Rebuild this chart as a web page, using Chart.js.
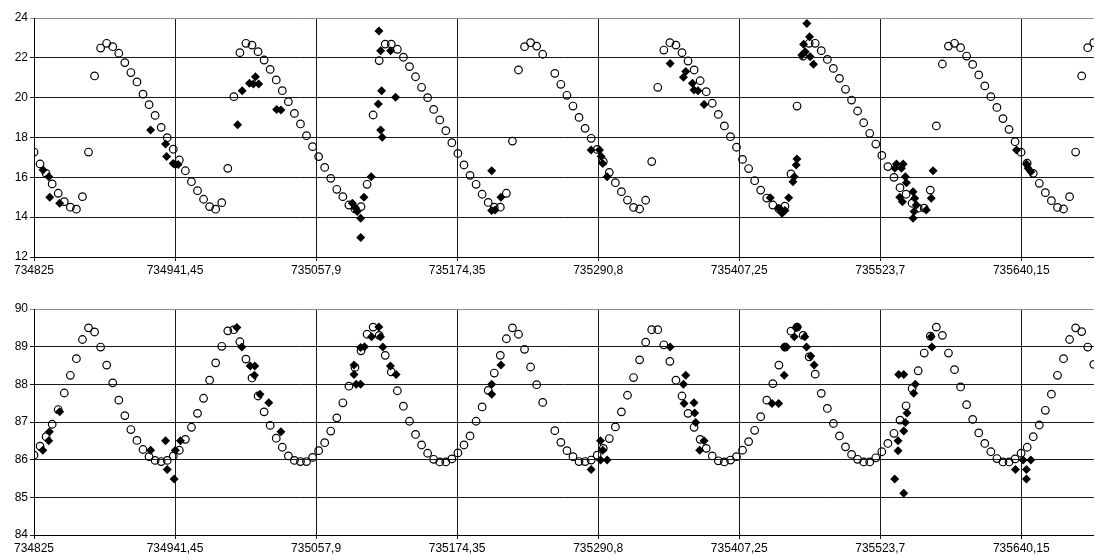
<!DOCTYPE html>
<html>
<head>
<meta charset="utf-8">
<script src="https://cdn.jsdelivr.net/npm/chart.js@4.4.1/dist/chart.umd.min.js"></script>
<style>
  body { margin: 0; background: #fff; }
  canvas { position: absolute; left: 0; }
  #chart_top { top: 0; }
  #chart_bottom { top: 278px; }
</style>
</head>
<body>
<canvas id="chart_top" width="1099" height="280"></canvas>
<canvas id="chart_bottom" width="1099" height="279"></canvas>
<script>
// model series: one value every 5 days starting at 734825 (null = missing)
var modelStart = 734825;
var modelStep = 5;

var modelTop = [
  17.27, 16.67, 16.2, 15.67, 15.2, 14.78, 14.5, 14.4, 15.03, 17.27,
  21.09, 22.49, 22.73, 22.56, 22.23, 21.76, 21.26, 20.79, 20.18, 19.65,
  19.11, 18.51, 17.99, 17.41, 16.87, 16.33, 15.78, 15.33, 14.9, 14.53,
  14.4, 14.73, 16.45, 20.05, 22.26, 22.73, 22.64, 22.31, 21.89, 21.42,
  20.89, 20.35, 19.8, 19.21, 18.68, 18.09, 17.54, 17.04, 16.5, 15.95,
  15.4, 15.03, 14.61, 14.42, 14.53, 15.65, 19.13, 21.86, 22.69, 22.69,
  22.43, 22.03, 21.56, 21.05, 20.52, 20.0, 19.41, 18.88, 18.34, 17.74,
  17.2, 16.62, 16.1, 15.65, 15.15, 14.74, 14.5, 14.5, 15.2, 17.82,
  21.39, 22.56, 22.76, 22.59, 22.18, null, 21.22, 20.67, 20.12, 19.58,
  19.01, 18.46, 17.96, 17.4, 16.79, 16.25, 15.73, 15.28, 14.86, 14.49,
  14.41, 14.85, 16.79, 20.52, 22.39, 22.76, 22.64, 22.26, 21.84, 21.39,
  20.85, 20.3, 19.72, 19.16, 18.58, 18.04, 17.51, 16.9, 16.44, 15.83,
  15.36, 14.96, 14.61, 14.42, 14.55, 16.17, 19.58, 22.09, 22.73, 22.73,
  22.36, 21.92, 21.47, 20.97, 20.42, 19.88, 19.33, 18.74, 18.21, 17.67,
  17.1, 16.54, 16.0, 15.48, 15.15, 14.7, 14.45, 14.45, 15.36, 18.58,
  21.69, 22.59, 22.73, 22.51, 22.09, 21.67, 21.14, 20.59, 20.05, 19.51,
  18.95, 18.41, 17.79, 17.26, 16.71, 16.2, 15.7, 15.23, 14.83, 14.49,
  14.41, 15.03, 17.27, 21.09, 22.51, 22.76
];

var modelBottom = [
  86.12, 86.36, 86.61, 86.94, 87.33, 87.77, 88.24, 88.68, 89.19, 89.5,
  89.39, 88.99, 88.51, 88.04, 87.58, 87.17, 86.8, 86.51, 86.27, 86.08,
  85.98, 85.95, 85.98, 86.1, 86.25, 86.54, 86.86, 87.23, 87.63, 88.11,
  88.57, 89.01, 89.42, 89.45, 89.13, 88.67, 88.17, 87.69, 87.27, 86.91,
  86.57, 86.33, 86.1, 85.98, 85.95, 85.95, 86.06, 86.24, 86.45, 86.76,
  87.11, 87.51, 87.95, 88.45, 88.89, 89.33, 89.52, 89.3, 88.77, 88.33,
  87.83, 87.42, 87.02, 86.67, 86.39, 86.17, 86.01, 85.94, 85.94, 86.02,
  86.18, 86.39, 86.63, 87.02, 87.4, 87.84, 88.3, 88.77, 89.21, 89.5,
  89.33, 88.93, 88.46, 87.99, 87.52, null, 86.77, 86.46, 86.24, 86.08,
  85.95, 85.95, 85.99, 86.12, 86.3, 86.56, 86.87, 87.27, 87.71, 88.18,
  88.65, 89.12, 89.45, 89.45, 89.05, 88.61, 88.11, 87.69, 87.23, 86.86,
  86.54, 86.3, 86.1, 85.97, 85.94, 85.99, 86.08, 86.25, 86.48, 86.78,
  87.14, 87.58, 88.02, 88.51, 88.99, 89.41, 89.52, 89.3, 88.73, 88.27,
  87.76, 87.36, 86.96, 86.63, 86.34, 86.14, 86.01, 85.94, 85.94, 86.05,
  86.21, 86.43, 86.7, 87.05, 87.43, 87.89, 88.36, 88.83, 89.28, 89.52,
  89.3, 88.83, 88.39, 87.93, 87.46, 87.07, 86.71, 86.43, 86.21, 86.03,
  85.94, 85.94, 86.02, 86.17, 86.33, 86.61, 86.92, 87.31, 87.74, 88.24,
  88.68, 89.19, 89.5, 89.4, 88.99, 88.53
];

// observations (filled diamonds)
var obsTopDays = [
  734832.5, 734837.2, 734838.0, 734846.2, 734921.3, 734933.6, 734934.5, 734939.9, 734941.7, 734944.0,
  734993.1, 734996.9, 735002.9, 735006.1, 735007.8, 735010.5, 735025.3, 735028.9,
  735087.8, 735090.6, 735091.9, 735094.7, 735094.7, 735097.4, 735103.4, 735109.2, 735109.8, 735111.2,
  735111.2, 735112.0, 735112.5, 735119.4, 735123.5,
  735202.9, 735202.9, 735205.6, 735210.5, 735285.0, 735291.9, 735293.3, 735294.6, 735298.2,
  735350.2, 735361.2, 735363.1, 735368.6, 735369.9, 735373.2, 735378.2,
  735432.9, 735439.8, 735442.6, 735445.0, 735448.1, 735451.6, 735452.7, 735454.3, 735454.9,
  735459.0, 735460.4, 735461.7, 735463.1, 735465.3, 735465.8, 735468.6,
  735535.7, 735537.1, 735539.8, 735541.2, 735542.0, 735542.6, 735544.4, 735545.3, 735550.8, 735550.8,
  735551.6, 735552.1, 735553.5, 735561.7, 735565.8, 735567.3,
  735636.2, 735644.4, 735645.8, 735648.0
];
var obsTopVals = [
  16.37, 16.03, 15.0, 14.7, 18.38, 17.67, 17.04, 16.7, 16.64, 16.65,
  18.64, 20.35, 20.72, 20.69, 21.05, 20.69, 19.41, 19.38,
  14.7, 14.45, 14.28, 13.94, 12.98, 15.0, 16.03, 19.68, 23.35, 22.36,
  18.38, 20.35, 18.01, 22.36, 20.02,
  16.33, 14.33, 14.36, 15.0, 17.37, 17.37, 17.04, 16.7, 16.03,
  21.72, 21.02, 21.31, 20.72, 20.39, 20.35, 19.66,
  14.98, 14.45, 14.2, 14.33, 14.98, 15.78, 16.03, 16.62, 16.92,
  22.14, 22.68, 22.31, 23.73, 23.06, 22.06, 21.68,
  16.45, 16.67, 15.0, 16.45, 14.78, 16.67, 16.03, 15.73, 15.28, 13.94,
  14.28, 14.95, 14.61, 14.36, 14.95, 16.33,
  17.37, 16.67, 16.45, 16.28
];

var obsBottomDays = [
  734832.3, 734837.2, 734837.7, 734846.2, 734921.3, 734933.6, 734935.0, 734940.7, 734941.7, 734945.9,
  734992.5, 734996.6, 735003.5, 735007.3, 735007.0, 735011.6, 735018.8, 735028.9,
  735089.2, 735089.2, 735091.0, 735094.6, 735094.6, 735097.8, 735103.7, 735109.7, 735111.1, 735113.0,
  735119.3, 735124.0,
  735202.9, 735202.9, 735210.5, 735285.0, 735292.7, 735294.6, 735292.7, 735298.2,
  735350.2, 735363.1, 735361.2, 735361.7, 735369.9, 735370.5, 735371.3, 735378.2, 735374.6,
  735434.3, 735439.8, 735444.4, 735444.4, 735446.4, 735452.7, 735455.4, 735454.0, 735461.4, 735462.8,
  735466.3, 735469.1,
  735538.9, 735543.1, 735552.6, 735551.3, 735545.8, 735544.4, 735543.1, 735538.4, 735538.4, 735535.6,
  735543.1, 735565.8, 735566.3,
  735635.3, 735641.6, 735644.4, 735644.4, 735648.0
];
var obsBottomVals = [
  86.25, 86.5, 86.74, 87.27, 86.25, 86.5, 85.74, 85.49, 86.25, 86.5,
  89.51, 88.99, 88.49, 88.49, 88.24, 87.74, 87.51, 86.74,
  88.51, 88.26, 88.0, 88.0, 88.98, 89.0, 89.26, 89.52, 89.26, 88.99,
  88.49, 88.26,
  87.74, 88.0, 88.51, 85.74, 86.5, 86.25, 85.99, 85.99,
  88.99, 88.24, 88.0, 87.49, 87.51, 87.24, 86.99, 86.5, 86.25,
  87.49, 87.49, 88.24, 88.99, 88.99, 89.26, 89.52, 89.5, 89.26, 88.99,
  88.75, 88.51,
  88.26, 88.26, 88.0, 87.76, 87.24, 86.99, 86.76, 86.5, 86.24, 85.49,
  85.11, 89.26, 88.99,
  85.74, 85.99, 85.74, 85.49, 85.99
];

var xTickValues = [734825, 734941.45, 735057.9, 735174.35, 735290.8, 735407.25, 735523.7, 735640.15];
var xTickLabels = ['734825', '734941,45', '735057,9', '735174,35', '735290,8', '735407,25', '735523,7', '735640,15'];
var xMin = 734825;
var xMax = 735700;

var labelFont = { family: "'Liberation Sans', Arial, sans-serif", size: 12 };

function toPoints(vals) {
  var pts = [];
  for (var i = 0; i < vals.length; i++) {
    if (vals[i] !== null) pts.push({ x: modelStart + i * modelStep, y: vals[i] });
  }
  return pts;
}

function zipPoints(days, vals) {
  var pts = [];
  for (var i = 0; i < days.length; i++) pts.push({ x: days[i], y: vals[i] });
  return pts;
}

function makeChart(id, model, obsDays, obsVals, yMin, yMax, yStep, padTop, xAxisH) {
  var ctx = document.getElementById(id).getContext('2d');
  return new Chart(ctx, {
    type: 'scatter',
    data: {
      datasets: [{
        label: 'observed',
        data: zipPoints(obsDays, obsVals),
        pointStyle: 'rectRot',
        pointRadius: 4.5,
        backgroundColor: '#000',
        borderColor: '#000',
        borderWidth: 0
      }, {
        label: 'model',
        data: toPoints(model),
        pointStyle: 'circle',
        pointRadius: 3.8,
        backgroundColor: 'rgba(0,0,0,0)',
        borderColor: '#000',
        borderWidth: 1.2
      }]
    },
    options: {
      responsive: false,
      animation: false,
      events: [],
      layout: { padding: { top: padTop, right: 1, left: 0, bottom: 0 } },
      plugins: { legend: { display: false }, tooltip: { enabled: false } },
      scales: {
        x: {
          type: 'linear',
          min: xMin,
          max: xMax,
          afterBuildTicks: function(s) {
            s.ticks = xTickValues.map(function(v) { return { value: v }; });
          },
          afterFit: function(s) {
            s.height = xAxisH;
            s.paddingLeft = 0;
            s.paddingRight = 0;
          },
          grid: { color: '#1a1a1a', lineWidth: 1, tickLength: 4 },
          border: { color: '#000' },
          ticks: {
            autoSkip: false,
            maxRotation: 0,
            padding: 2,
            color: '#000',
            font: labelFont,
            callback: function(v, i) { return xTickLabels[i]; }
          }
        },
        y: {
          min: yMin,
          max: yMax,
          afterFit: function(s) {
            s.width = 34;
            s.paddingTop = 0;
            s.paddingBottom = 0;
          },
          grid: {
            color: function(c) { return c.tick && c.tick.value === yMax ? '#8c8c8c' : '#1a1a1a'; },
            lineWidth: 1,
            tickLength: 4
          },
          border: { color: '#000' },
          ticks: { stepSize: yStep, padding: 2, color: '#000', font: labelFont }
        }
      }
    }
  });
}

makeChart('chart_top', modelTop, obsTopDays, obsTopVals, 12, 24, 2, 18, 23);
makeChart('chart_bottom', modelBottom, obsBottomDays, obsBottomVals, 84, 90, 1, 31, 22);
</script>
</body>
</html>
